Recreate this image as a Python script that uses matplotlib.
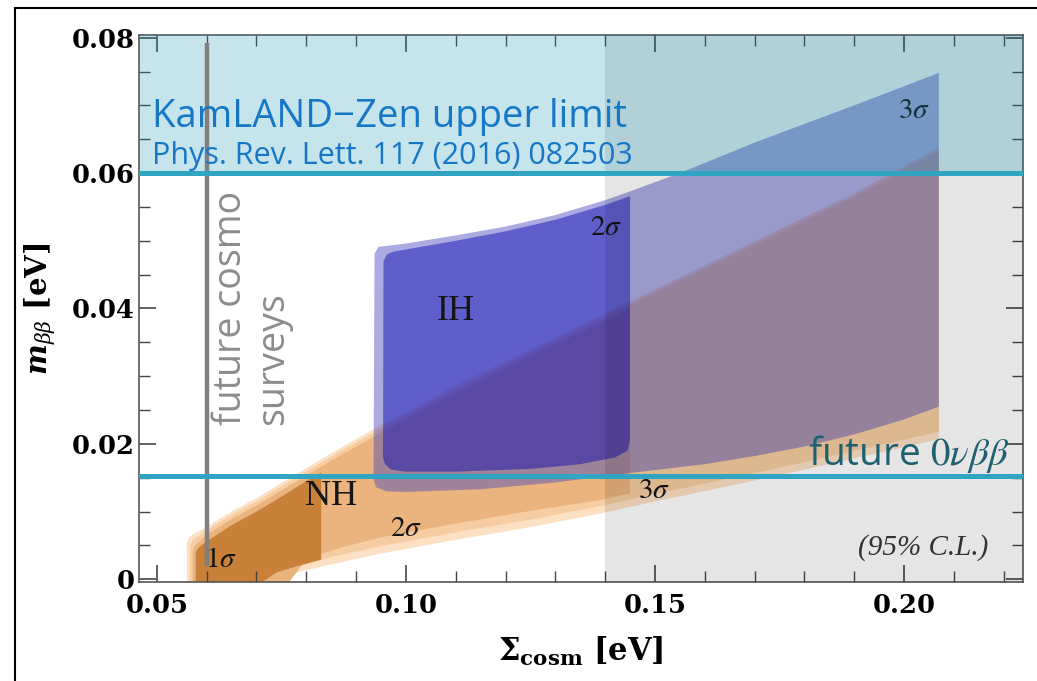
import matplotlib
matplotlib.use("Agg")
import matplotlib.pyplot as plt
from matplotlib.lines import Line2D

plt.rcParams['mathtext.fontset'] = 'stix'

# ---- data (eV) ----
# NH band, outer light rim
nh0_top_x = [0.0560, 0.0560, 0.0564, 0.0572, 0.060, 0.065, 0.070, 0.077, 0.085, 0.095, 0.110, 0.130, 0.150, 0.170, 0.190, 0.207]
nh0_top_y = [-0.001, 0.0052, 0.0061, 0.0066, 0.0077, 0.0100, 0.0120, 0.0151, 0.0186, 0.0228, 0.0286, 0.0358, 0.0428, 0.0499, 0.0570, 0.0638]
nh0_bot_x = [0.207, 0.195, 0.180, 0.165, 0.150, 0.139, 0.125, 0.109, 0.095, 0.085, 0.078, 0.072]
nh0_bot_y = [0.0207, 0.0187, 0.0162, 0.0138, 0.0115, 0.0097, 0.0077, 0.0057, 0.0038, 0.0022, 0.0010, -0.001]
# NH 3 sigma
nh3_top_x = [0.0566, 0.0566, 0.0570, 0.0578, 0.060, 0.065, 0.070, 0.077, 0.085, 0.095, 0.110, 0.130, 0.150, 0.170, 0.190, 0.207]
nh3_top_y = [-0.001, 0.0047, 0.0056, 0.0061, 0.0072, 0.0095, 0.0115, 0.0146, 0.0181, 0.0223, 0.0281, 0.0353, 0.0423, 0.0494, 0.0565, 0.0633]
nh3_bot_x = [0.207, 0.195, 0.180, 0.165, 0.150, 0.139, 0.125, 0.109, 0.095, 0.085, 0.079, 0.074]
nh3_bot_y = [0.0218, 0.0198, 0.0173, 0.0149, 0.0126, 0.0108, 0.0088, 0.0068, 0.0049, 0.0033, 0.0020, -0.001]
# NH 2 sigma
nh2_top_x = [0.0572, 0.0572, 0.0576, 0.0584, 0.060, 0.065, 0.070, 0.077, 0.085, 0.095, 0.110, 0.130, 0.145]
nh2_top_y = [-0.001, 0.0041, 0.0050, 0.0055, 0.0066, 0.0089, 0.0109, 0.0140, 0.0175, 0.0217, 0.0275, 0.0347, 0.0400]
nh2_bot_x = [0.145, 0.139, 0.125, 0.109, 0.095, 0.087, 0.080, 0.076]
nh2_bot_y = [0.0127, 0.0117, 0.0101, 0.0081, 0.0062, 0.0047, 0.0030, -0.001]
# NH 1 sigma
nh1_top_x = [0.0578, 0.0578, 0.0584, 0.060, 0.065, 0.070, 0.075, 0.080, 0.083]
nh1_top_y = [-0.001, 0.0040, 0.0047, 0.0056, 0.0080, 0.0100, 0.0122, 0.0145, 0.0158]
nh1_bot_x = [0.083, 0.078, 0.074, 0.070]
nh1_bot_y = [0.0029, 0.0019, 0.0010, -0.001]

# IH 3 sigma
ih3_top_x = [0.0935, 0.0937, 0.0945, 0.100, 0.110, 0.120, 0.130, 0.140, 0.145, 0.155, 0.170, 0.190, 0.207]
ih3_top_y = [0.0148, 0.0481, 0.0491, 0.0496, 0.0508, 0.0521, 0.0538, 0.0560, 0.0573, 0.0600, 0.0645, 0.0700, 0.0748]
ih3_bot_x = [0.207, 0.200, 0.190, 0.180, 0.170, 0.160, 0.145, 0.130, 0.115, 0.100, 0.096, 0.0940]
ih3_bot_y = [0.0255, 0.0236, 0.0214, 0.0196, 0.0182, 0.0170, 0.0157, 0.0143, 0.0133, 0.0129, 0.0130, 0.0136]
# IH 2 sigma
ih2_top_x = [0.0954, 0.0955, 0.0962, 0.0975, 0.110, 0.120, 0.130, 0.140, 0.145]
ih2_top_y = [0.0180, 0.0470, 0.0480, 0.0484, 0.0500, 0.0514, 0.0531, 0.0553, 0.0566]
ih2_bot_x = [0.145, 0.1445, 0.142, 0.135, 0.125, 0.110, 0.100, 0.097, 0.0958]
ih2_bot_y = [0.0205, 0.0190, 0.0180, 0.0170, 0.0163, 0.0159, 0.0159, 0.0162, 0.0170]

kamland_limit = 0.060
future_0vbb = 0.0153
cosmo_future = 0.0601
cosmo_line_y = [0.0019, 0.0792]
cosmo_shade_from = 0.140

xticks = [0.05, 0.10, 0.15, 0.20]
xticklabels = ['0.05', '0.10', '0.15', '0.20']
yticks = [0.0, 0.02, 0.04, 0.06, 0.08]
yticklabels = ['0', '0.02', '0.04', '0.06', '0.08']

# sigma / hierarchy labels: (x, y, text, size)
region_labels = [
    (0.0596, 0.0018, r'$1\sigma$', 21),
    (0.0797, 0.0110, 'NH', 26),
    (0.0968, 0.0064, r'$2\sigma$', 21),
    (0.1062, 0.0383, 'IH', 26),
    (0.1370, 0.0509, r'$2\sigma$', 21),
    (0.1466, 0.0120, r'$3\sigma$', 21),
    (0.1988, 0.0681, r'$3\sigma$', 21),
]


def fill_band(ax, tx, ty, bx, by, **kw):
    ax.fill(list(tx) + list(bx), list(ty) + list(by), lw=0, **kw)


fig = plt.figure(figsize=(10.37, 6.81), dpi=100)
ax = fig.add_axes([0.134, 0.1454, 0.8525, 0.8032])
ax.set_xlim(0.0464, 0.2239)
ax.set_ylim(-0.0004, 0.0804)

# NH
fill_band(ax, nh0_top_x, nh0_top_y, nh0_bot_x, nh0_bot_y, color='#FCE0C3', zorder=1)
fill_band(ax, nh3_top_x, nh3_top_y, nh3_bot_x, nh3_bot_y, color='#F6CDA2', zorder=1.1)
fill_band(ax, nh2_top_x, nh2_top_y, nh2_bot_x, nh2_bot_y, color='#EBB47E', zorder=1.2)
fill_band(ax, nh1_top_x, nh1_top_y, nh1_bot_x, nh1_bot_y, color='#C98039', zorder=1.3)
# IH
fill_band(ax, ih3_top_x, ih3_top_y, ih3_bot_x, ih3_bot_y, color='#4646BE', alpha=0.45, zorder=2)
fill_band(ax, ih2_top_x, ih2_top_y, ih2_bot_x, ih2_bot_y, color='#0303B1', alpha=0.45, zorder=2.1)

for x, y, s, fs in region_labels:
    ax.text(x, y, s, fontsize=fs, family='Liberation Serif', color='#151515', zorder=3)

# excluded / future regions
ax.axvspan(cosmo_shade_from, 1, color='black', alpha=0.10, lw=0, zorder=4)
ax.axhspan(kamland_limit, 1, color='#1894B4', alpha=0.25, lw=0, zorder=4.1)

ax.plot([cosmo_future, cosmo_future], cosmo_line_y, color='#808080', lw=3.2,
        solid_capstyle='butt', zorder=5)
ax.axhline(kamland_limit, color='#2FA5C2', lw=3.6, zorder=5.1)
ax.axhline(future_0vbb, color='#2FA5C2', lw=3.6, zorder=5.1)

ax.text(0.0490, 0.0668, u'KamLAND\u2212Zen upper limit', family='Open Sans',
        fontsize=27.5, color='#1677C7', zorder=6)
ax.text(0.0490, 0.0613, 'Phys. Rev. Lett. 117 (2016) 082503', family='Open Sans',
        fontsize=22, color='#1677C7', zorder=6)
ax.text(0.0610, 0.0228, 'future cosmo\nsurveys', family='Open Sans', fontsize=27,
        color='#8C8C8C', rotation=90, ha='left', va='bottom', multialignment='left',
        linespacing=1.15, zorder=6)
ax.text(0.2213, 0.0169, r'future $0\nu\beta\beta$', family='Open Sans', fontsize=28,
        color='#1F6070', ha='right', zorder=6)
ax.text(0.2169, 0.0036, '(95% C.L.)', family='Liberation Serif', style='italic',
        fontsize=21, color='#333333', ha='right', zorder=6)

# axes styling
ax.set_xticks(xticks)
ax.set_xticklabels(xticklabels)
ax.set_yticks(yticks)
ax.set_yticklabels(yticklabels)
ax.set_xticks([0.05 + 0.01 * i for i in range(18)], minor=True)
ax.set_yticks([0.005 * i for i in range(17)], minor=True)
ax.tick_params(which='both', direction='in', top=True, right=True, color='#444444')
ax.tick_params(which='major', length=12, width=1.2)
ax.tick_params(which='minor', length=8, width=1.0)
ax.tick_params(axis='x', which='major', pad=8)
ax.tick_params(axis='y', which='major', pad=3)
for lab in ax.get_xticklabels() + ax.get_yticklabels():
    lab.set_family('DejaVu Serif')
    lab.set_fontweight('bold')
    lab.set_fontsize(18.5)
for sp in ax.spines.values():
    sp.set_color('#555555')
    sp.set_linewidth(1.2)

ax.set_xlabel(r'$\mathbf{\Sigma_{cosm}}$ [eV]', family='DejaVu Serif', fontweight='bold',
              fontsize=22, labelpad=12, math_fontfamily='dejavuserif')
ax.set_ylabel(r'$\mathbfit{m}_{\beta\beta}$ [eV]', family='DejaVu Serif', fontweight='bold',
              fontsize=21, labelpad=10, math_fontfamily='dejavuserif')

# outer frame of the slide
fig.add_artist(Line2D([15 / 1037, 15 / 1037], [0, 1 - 8 / 681], color='black', lw=1.5))
fig.add_artist(Line2D([15 / 1037, 1], [1 - 8 / 681, 1 - 8 / 681], color='black', lw=1.5))

fig.savefig('out.png', dpi=100)
